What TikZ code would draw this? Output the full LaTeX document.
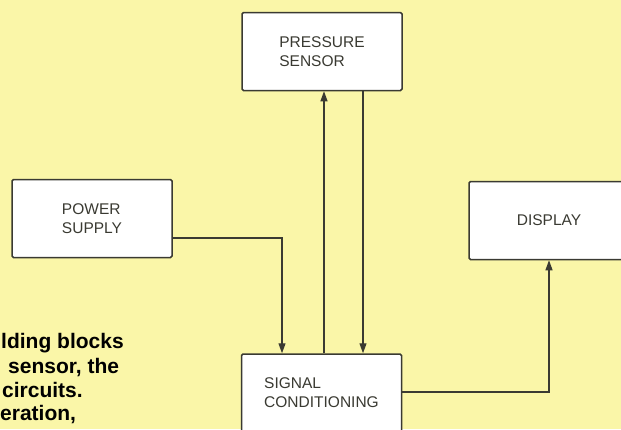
\documentclass[tikz,border=0pt]{standalone}
\usepackage{fontspec}
\setmainfont{Liberation Sans}
\usetikzlibrary{arrows.meta}
\definecolor{bg}{RGB}{250,246,168}
\definecolor{ink}{RGB}{58,58,50}
\tikzset{
  block/.style={draw=ink, line width=1.5pt, fill=white, rounded corners=1.5pt,
    minimum width=160pt, minimum height=78pt, align=left, text=ink,
    font=\fontsize{15.5}{19}\selectfont, inner sep=0pt},
  conn/.style={draw=ink, line width=1.2pt, -{Triangle[length=10pt,width=7pt]}},
  plain/.style={draw=ink, line width=1.2pt},
  caption/.style={anchor=base west, inner sep=0pt, font=\fontsize{21}{24}\selectfont\bfseries, text=black}
}
\begin{document}
\begin{tikzpicture}[x=1pt,y=-1pt]
\useasboundingbox (0,0) rectangle (621,429);
\fill[bg] (0,0) rectangle (621,429);
\clip (0,0) rectangle (621,429);
\node[block] (ps) at (322,51.5) {PRESSURE\\SENSOR};
\node[block] (pw) at (92,218.5) {POWER\\SUPPLY};
\node[block] (sc) at (321.5,393) {SIGNAL\\CONDITIONING};
\node[block] (dp) at (549,220.5) {DISPLAY};
% connectors
\draw[conn] ([yshift=-19.5pt]pw.east) -| ([xshift=-39.5pt]sc.north);
\draw[conn] ([xshift=2.5pt]sc.north) -- ([xshift=2pt]ps.south);
\draw[conn] ([xshift=41pt]ps.south) -- ([xshift=41.5pt]sc.north);
\draw[conn] ([yshift=1pt]sc.east) -| (dp.south);
% caption fragments
\node[caption] (c1) at (1,348) {lding blocks};
\node[caption] (c2) at (8,373) {sensor, the};
\node[caption] (c3) at (2,397) {circuits.};
\node[caption] (c4) at (0,420) {eration,};
\end{tikzpicture}
\end{document}
